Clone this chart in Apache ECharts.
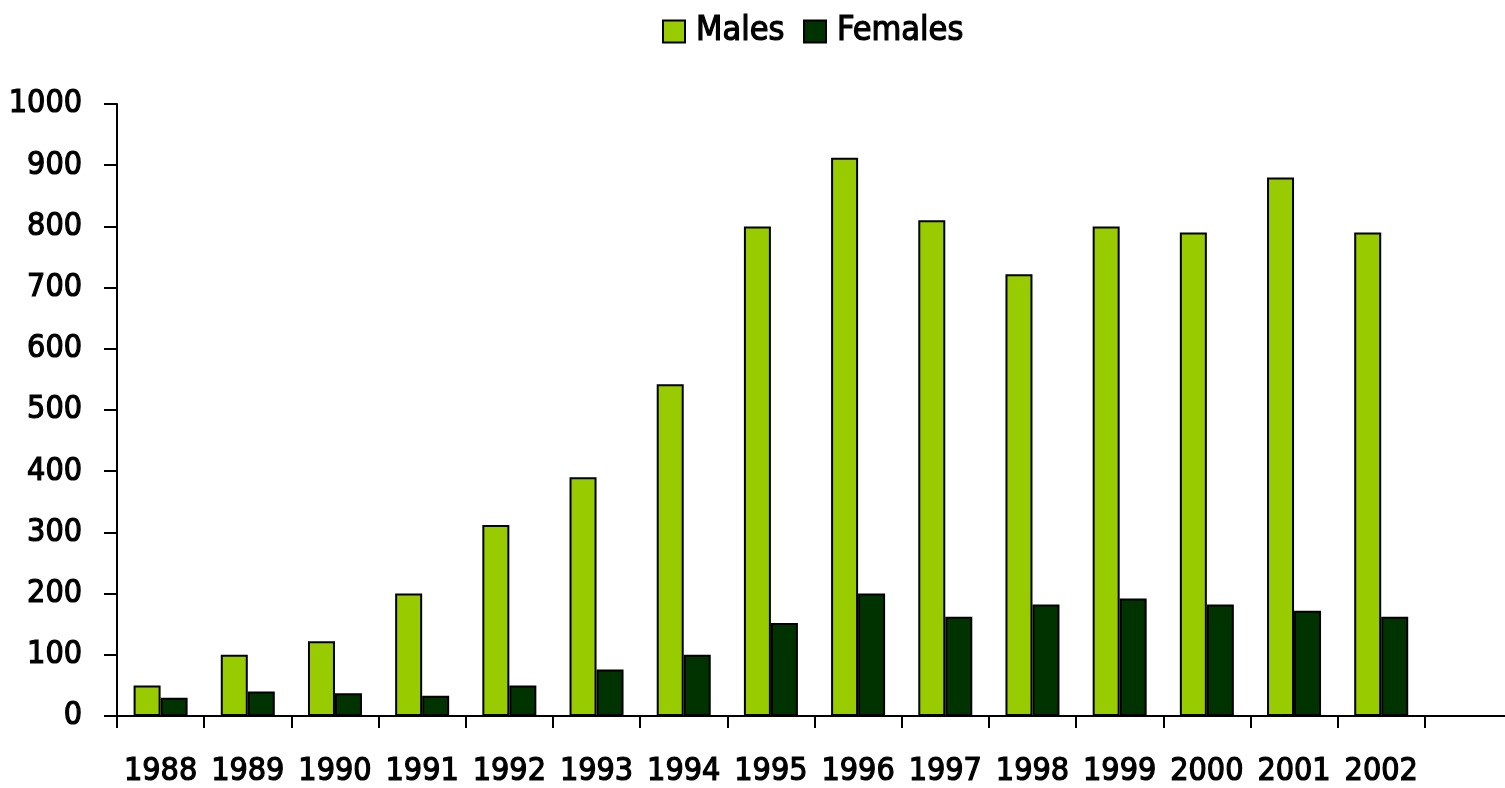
<!DOCTYPE html>
<html>
<head>
<meta charset="utf-8">
<script src="https://cdn.jsdelivr.net/npm/echarts@6/dist/echarts.min.js"></script>
<style>
html,body{margin:0;padding:0;background:#fff;}
#main{width:1505px;height:788px;}
</style>
</head>
<body>
<div id="main"></div>
<script>
var years = ['1988','1989','1990','1991','1992','1993','1994','1995','1996','1997','1998','1999','2000','2001','2002',''];
var males = [50, 100, 122, 200, 312, 390, 542, 800, 912, 810, 722, 800, 790, 880, 790];
var females = [30, 40, 37, 33, 50, 76, 100, 152, 200, 162, 182, 192, 182, 172, 162];

var myChart = echarts.init(document.getElementById('main'));
var fnt = '"DejaVu Sans Condensed", sans-serif';

var option = {
    animation: false,
    textStyle: {fontFamily: fnt},
    legend: {
        data: ['Males', 'Females'],
        top: 9,
        left: 657,
        icon: 'rect',
        itemWidth: 22,
        itemHeight: 22,
        itemGap: 18,
        textStyle: {fontFamily: fnt, fontSize: 34, color: '#000', padding: [0, 0, 0, 6],
            textBorderColor: '#000', textBorderWidth: 1.2}
    },
    grid: {left: 117, right: -7, top: 104, bottom: 72, containLabel: false, outerBoundsMode: 'none'},
    xAxis: {
        type: 'category',
        data: years,
        axisLine: {lineStyle: {color: '#000', width: 2}},
        axisTick: {show: true, length: 12, lineStyle: {color: '#000', width: 2}},
        axisLabel: {color: '#000', fontFamily: fnt, fontSize: 32, margin: 40, interval: 0,
            textBorderColor: '#000', textBorderWidth: 1.2}
    },
    yAxis: {
        type: 'value',
        min: 0,
        max: 1000,
        interval: 100,
        axisLine: {show: true, lineStyle: {color: '#000', width: 2}},
        axisTick: {show: true, length: 13, lineStyle: {color: '#000', width: 2}},
        axisLabel: {color: '#000', fontFamily: fnt, fontSize: 32, margin: 35,
            textBorderColor: '#000', textBorderWidth: 1.2,
            formatter: function (v) { return String(v); }},
        splitLine: {show: false}
    },
    series: [
        {
            name: 'Males',
            type: 'bar',
            data: males,
            barWidth: 27,
            barGap: '0%',
            itemStyle: {color: '#99cc00', borderColor: '#000', borderWidth: 2}
        },
        {
            name: 'Females',
            type: 'bar',
            data: females,
            barWidth: 27,
            barGap: '0%',
            itemStyle: {color: '#003300', borderColor: '#000', borderWidth: 2}
        }
    ]
};
myChart.setOption(option);
</script>
</body>
</html>
